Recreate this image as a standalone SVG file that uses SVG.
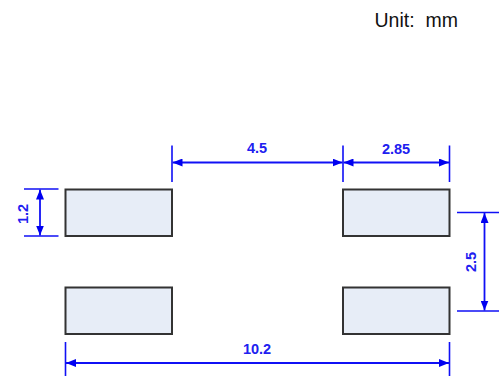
<svg xmlns="http://www.w3.org/2000/svg" width="499" height="376" viewBox="0 0 499 376">
<style>
.pad{fill:#e7edf7;stroke:#333;stroke-width:2}
.dim{stroke:#1010f5;stroke-width:1.8;fill:none}
.ext{stroke:#1010f5;stroke-width:1.6;fill:none}
.lab{font-family:"Liberation Sans",Arial,sans-serif;font-size:14.500px;font-weight:bold;fill:#2020f0;text-anchor:middle}
.unit{font-family:"Liberation Sans",Arial,sans-serif;font-size:19.500px;fill:#111}
</style>
<defs>
<marker id="a" viewBox="0 0 10 8" refX="10" refY="4" markerWidth="10" markerHeight="8" markerUnits="userSpaceOnUse" orient="auto-start-reverse"><path d="M0 0L10 4L0 8z" fill="#0000f0"/></marker>
</defs>
<rect width="499" height="376" fill="#fff"/>
<text class="unit" x="374.500" y="27" xml:space="preserve">Unit:  mm</text>
<g id="pad-top-left"><rect class="pad" x="65.500" y="189.500" width="106.500" height="46.500"/></g>
<g id="pad-top-right"><rect class="pad" x="343" y="189.500" width="106.500" height="46.500"/></g>
<g id="pad-bottom-left"><rect class="pad" x="65.500" y="287.500" width="106.500" height="46.500"/></g>
<g id="pad-bottom-right"><rect class="pad" x="343" y="287.500" width="106.500" height="46.500"/></g>
<g id="connectors">
<path class="ext" d="M172 145.500V182M343 145.500V182M449.500 145.500V182M24 189H58.500M24 236H58.500M457 212.500H499M457 311H499M65.500 342V376M449.500 342V376"/>
<path class="dim" marker-start="url(#a)" marker-end="url(#a)" d="M172.500 162.500H342.500"/>
<path class="dim" marker-start="url(#a)" marker-end="url(#a)" d="M343.500 162.500H449"/>
<path class="dim" marker-start="url(#a)" marker-end="url(#a)" d="M40 189.500V235.500"/>
<path class="dim" marker-start="url(#a)" marker-end="url(#a)" d="M484.500 213V310.500"/>
<path class="dim" marker-start="url(#a)" marker-end="url(#a)" d="M66 363H449"/>
</g>
<g id="labels">
<text class="lab" x="257" y="152.500">4.5</text>
<text class="lab" x="396" y="153.500">2.85</text>
<text class="lab" x="257" y="353.500">10.2</text>
<text class="lab" transform="translate(28 214) rotate(-90)">1.2</text>
<text class="lab" transform="translate(476 262) rotate(-90)">2.5</text>
</g>
</svg>
